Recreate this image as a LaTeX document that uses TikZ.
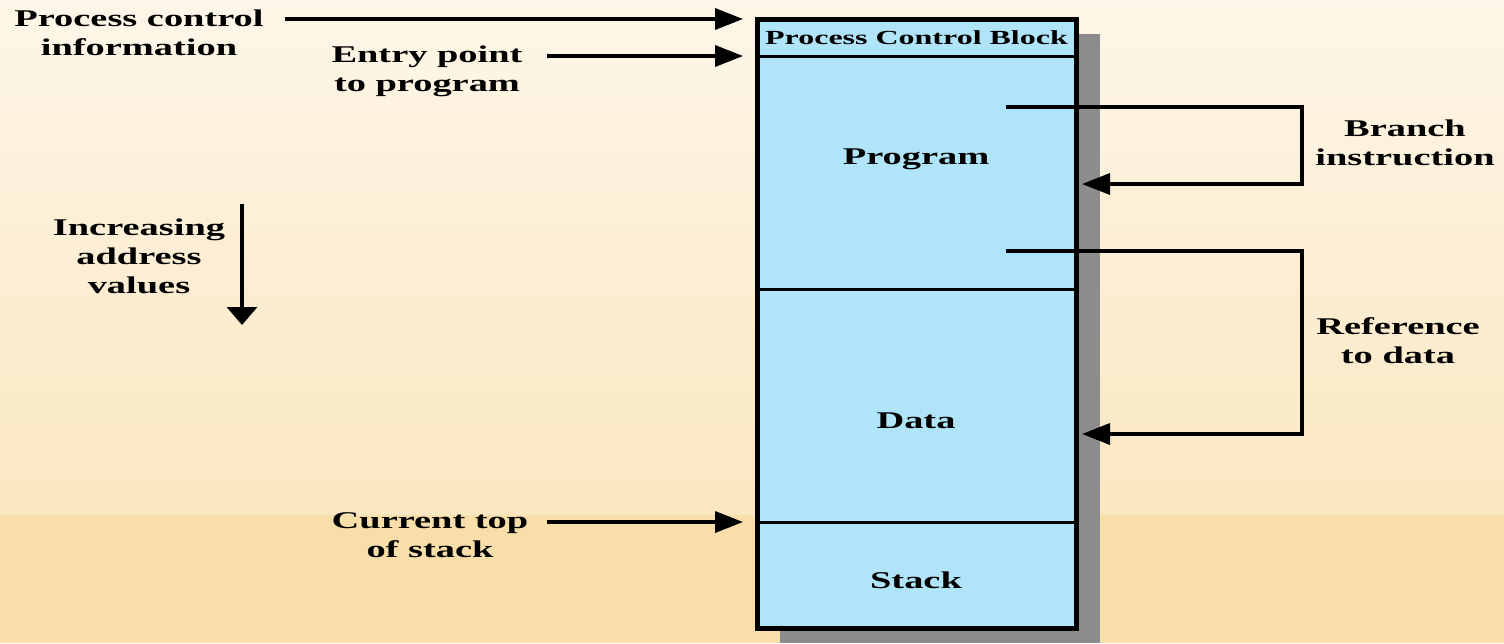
\documentclass[tikz,border=0pt]{standalone}
\usepackage{fontspec}
\setmainfont{Liberation Serif}[FakeStretch=1.6]
\usetikzlibrary{arrows.meta}

\definecolor{bgtop}{RGB}{253,246,232}
\definecolor{bgmid}{RGB}{251,231,193}
\definecolor{bgband}{RGB}{248,222,168}
\definecolor{segblue}{RGB}{176,228,248}
\definecolor{shadowgray}{RGB}{140,140,140}

\tikzset{
  lbl/.style={font=\bfseries\fontsize{12}{14.5}\selectfont, align=center, inner sep=0pt},
  seg/.style={draw=black, line width=1.5pt, fill=segblue, inner sep=0pt, outer sep=0pt,
              minimum width=159.5pt, anchor=north west},
  segtext/.style={font=\bfseries\fontsize{12}{14}\selectfont, inner sep=0pt},
  arr/.style={line width=1.75pt, -{Triangle[length=14pt,width=10.5pt]}},
  downarr/.style={line width=1.75pt, -{Triangle[length=9pt,width=15pt]}},
}

\begin{document}
\begin{tikzpicture}[x=0.5pt,y=-0.5pt]
  % page background with warm gradient and lower band
  \useasboundingbox (0,0) rectangle (1504,643);
  \shade[top color=bgtop, bottom color=bgmid] (0,0) rectangle (1504,515);
  \fill[bgband] (0,515) rectangle (1504,643);

  % drop shadow behind the process image
  \fill[shadowgray] (780,34) rectangle (1100,643);

  % process image segments
  \node[seg, minimum height=18.5pt, font=\bfseries\fontsize{10}{12}\selectfont] (pcb) at (757,19) {Process Control Block};
  \node[seg, minimum height=116.5pt] (prog) at (757,56) {};
  \node[seg, minimum height=116.5pt] (data) at (757,289) {};
  \node[seg, minimum height=53pt] (stack) at (757,522) {};
  \draw[line width=2.5pt] (pcb.north west) rectangle (stack.south east);

  % segment names
  \node[segtext] (progT) at (916,159) {Program};
  \node[segtext] (dataT) at (916,421) {Data};
  \node[segtext] (stackT) at (916,580) {Stack};

  % labels
  \node[lbl] (pci) at (139,33) {Process control\\information};
  \node[lbl] (entry) at (427,71) {Entry point\\to program};
  \node[lbl] (incr) at (139,256) {Increasing\\address\\values};
  \node[lbl] (cur) at (430,535) {Current top\\of stack};
  \node[lbl] (branch) at (1405,143) {Branch\\instruction};
  \node[lbl] (ref) at (1398,341) {Reference\\to data};

  % arrow start and end points
  \coordinate (pciA) at (285,19);
  \coordinate (entryA) at (547,56);
  \coordinate (curA) at (547,522);
  \coordinate (incA) at (242,204);
  \coordinate (incB) at (242,325);
  \coordinate (brA) at (1006,107);
  \coordinate (brB) at (1082,184);
  \coordinate (refA) at (1006,251);
  \coordinate (refB) at (1082,434);

  % pointers into the process image
  \draw[arr] (pciA) -- ([xshift=-7pt]pcb.north west);
  \draw[arr] (entryA) -- ([xshift=-7pt]prog.north west);
  \draw[arr] (curA) -- ([xshift=-7pt]stack.north west);
  \draw[downarr] (incA) -- (incB);

  % branch and data references
  \draw[arr] (brA) -- ++(296,0) |- (brB);
  \draw[arr] (refA) -- ++(296,0) |- (refB);
\end{tikzpicture}
\end{document}
